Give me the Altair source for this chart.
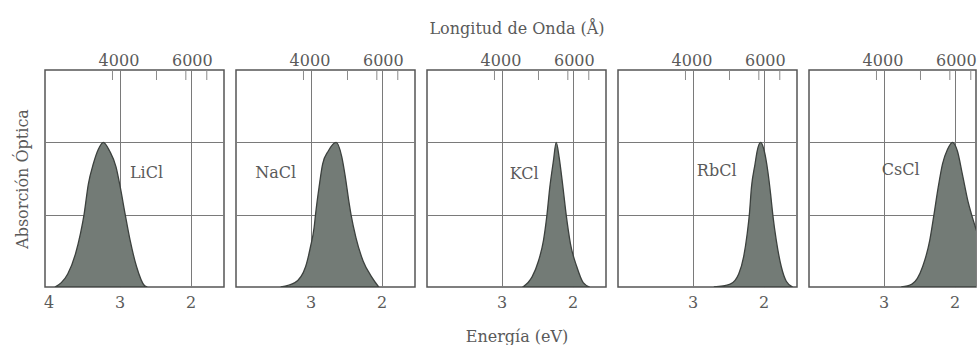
import altair as alt
import pandas as pd

# Photon energy (eV) of light with wavelength 1 Å
HC = 12398.4

salts = ["LiCl", "NaCl", "KCl", "RbCl", "CsCl"]

# F-band absorption curves: photon energy (eV) and relative optical absorption
licl_energy = [3.91, 3.82, 3.73, 3.62, 3.55, 3.50, 3.44, 3.37, 3.30, 3.23, 3.14, 3.05, 2.99, 2.92, 2.85, 2.76, 2.65, 2.61]
licl_abs = [0.0, 0.03, 0.09, 0.23, 0.37, 0.50, 0.71, 0.85, 0.95, 1.0, 0.94, 0.83, 0.69, 0.50, 0.32, 0.14, 0.01, 0.0]

nacl_energy = [3.42, 3.22, 3.07, 3.00, 2.95, 2.93, 2.88, 2.83, 2.75, 2.64, 2.56, 2.51, 2.46, 2.43, 2.36, 2.26, 2.14, 2.04]
nacl_abs = [0.0, 0.03, 0.14, 0.28, 0.41, 0.50, 0.69, 0.85, 0.94, 1.0, 0.90, 0.76, 0.59, 0.50, 0.34, 0.18, 0.07, 0.0]

kcl_energy = [2.70, 2.57, 2.48, 2.41, 2.36, 2.32, 2.27, 2.23, 2.19, 2.14, 2.09, 2.03, 1.94, 1.85, 1.76]
kcl_abs = [0.0, 0.07, 0.18, 0.32, 0.50, 0.69, 0.87, 1.0, 0.90, 0.71, 0.50, 0.30, 0.14, 0.03, 0.0]

rbcl_energy = [2.70, 2.47, 2.35, 2.28, 2.23, 2.20, 2.17, 2.12, 2.09, 2.04, 1.99, 1.94, 1.90, 1.87, 1.82, 1.75, 1.68, 1.59]
rbcl_abs = [0.0, 0.02, 0.09, 0.21, 0.37, 0.50, 0.69, 0.85, 0.94, 1.0, 0.94, 0.80, 0.64, 0.50, 0.32, 0.14, 0.04, 0.0]

cscl_energy = [2.75, 2.60, 2.45, 2.35, 2.29, 2.23, 2.17, 2.10, 2.03, 1.96, 1.89, 1.81, 1.76, 1.66, 1.57, 1.48, 1.40]
cscl_abs = [0.0, 0.02, 0.14, 0.32, 0.50, 0.69, 0.85, 0.95, 1.0, 0.94, 0.78, 0.59, 0.50, 0.34, 0.18, 0.06, 0.0]

curves = [
    (licl_energy, licl_abs),
    (nacl_energy, nacl_abs),
    (kcl_energy, kcl_abs),
    (rbcl_energy, rbcl_abs),
    (cscl_energy, cscl_abs),
]

# Where each salt's name sits inside its panel
label_energy = [2.62, 3.49, 2.68, 2.66, 2.76]
label_abs = [0.79, 0.79, 0.78, 0.80, 0.81]

energy_ticks_first = [4, 3, 2]
energy_ticks = [3, 2]
wavelength_ticks = [4000, 5000, 6000, 7000]
wavelength_labels = [4000, 6000]
absorption_grid = [0.5, 1.0]

# Layout
E_MAX = 4.05
PX_PER_EV = 71
PANEL_W = 179
LAST_W = 167
PANEL_H = 217

SERIF = "DejaVu Serif"
TEXT = "#5a5a5a"
FILL = "#737b76"
EDGE = "#3c413e"


def panel(i, width):
    energy, absorb = curves[i]
    lo = E_MAX - width / PX_PER_EV
    xscale = alt.Scale(domain=[lo, E_MAX], reverse=True, nice=False, zero=False)
    yscale = alt.Scale(domain=[0, 1.5], nice=False, zero=True)
    first = i == 0
    middle = i == 2

    bottom_axis = alt.Axis(
        values=energy_ticks_first if first else energy_ticks,
        format="d",
        grid=True,
        gridOpacity={"condition": {"test": "datum.value == 4", "value": 0}, "value": 1},
        ticks=False,
        domain=False,
        labelPadding=7,
        titlePadding=18,
    )
    left_axis = alt.Axis(
        values=absorption_grid,
        grid=True,
        labels=False,
        ticks=False,
        domain=False,
        titlePadding=15,
    )
    top_axis = alt.Axis(
        orient="top",
        values=[HC / w for w in wavelength_labels],
        labelExpr=f"format({HC} / datum.value, '.0f')",
        labelOffset=6,
        labelPadding=2,
        grid=False,
        ticks=False,
        domain=False,
        titlePadding=16,
    )

    if middle:
        x_enc = alt.X("E:Q", scale=xscale, axis=bottom_axis, title="Energía (eV)")
        top_enc = alt.X("E:Q", scale=xscale, axis=top_axis, title="Longitud de Onda (Å)")
    else:
        x_enc = alt.X("E:Q", scale=xscale, axis=bottom_axis, title=None)
        top_enc = alt.X("E:Q", scale=xscale, axis=top_axis, title=None)

    if first:
        y_enc = alt.Y("A:Q", scale=yscale, axis=left_axis, title="Absorción Óptica")
    else:
        y_enc = alt.Y("A:Q", scale=yscale, axis=left_axis, title=None)

    curve_df = pd.DataFrame({"E": energy, "A": absorb})
    band = alt.Chart(curve_df).mark_area(
        clip=True, interpolate="monotone", fill=FILL, stroke=EDGE, strokeWidth=1.3
    ).encode(x=x_enc, y=y_enc)

    name_df = pd.DataFrame({"E": [label_energy[i]], "A": [label_abs[i]], "name": [salts[i]]})
    name = alt.Chart(name_df).mark_text(
        font=SERIF, fontSize=16, color=TEXT
    ).encode(
        x=alt.X("E:Q", scale=xscale, axis=None),
        y=alt.Y("A:Q", scale=yscale),
        text="name:N",
    )

    # Wavelength ticks hanging from the top edge
    wl_df = pd.DataFrame({"wl": wavelength_ticks})
    wl_ticks = alt.Chart(wl_df).transform_calculate(
        E=f"{HC} / datum.wl"
    ).mark_rule(clip=True, color="#8a8a8a", strokeWidth=1).encode(
        x=top_enc, y=alt.value(0), y2=alt.value(10)
    )

    return alt.layer(band, name, wl_ticks).resolve_scale(x="independent").properties(
        width=width, height=PANEL_H
    )


panels = [panel(i, PANEL_W if i < 4 else LAST_W) for i in range(5)]

chart = alt.hconcat(*panels, spacing=10).properties(
    padding={"left": 13, "top": 19, "right": 0, "bottom": 0},
    background="white",
).configure_view(
    stroke="#555555", strokeWidth=1.5
).configure_axis(
    labelFont=SERIF,
    labelFontSize=16,
    labelColor=TEXT,
    titleFont=SERIF,
    titleFontSize=16,
    titleFontWeight="normal",
    titleColor=TEXT,
    gridColor="#7a7a7a",
    gridWidth=1,
)

chart.save("out.html", embed_options={"renderer": "svg", "actions": False})
